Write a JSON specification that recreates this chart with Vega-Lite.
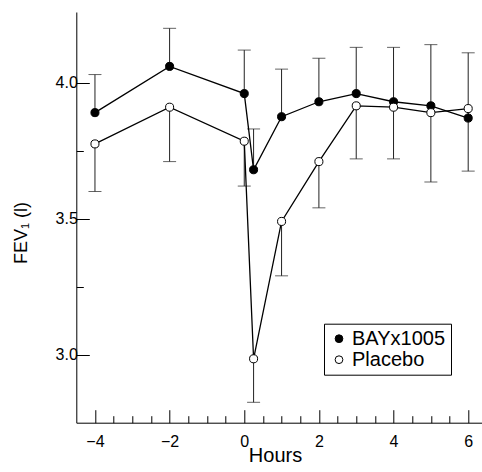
{
  "$schema": "https://vega.github.io/schema/vega-lite/v6.json",
  "width": 405.7,
  "height": 410.7,
  "autosize": {"type": "none"},
  "padding": {"left": 76.3, "top": 12, "right": 0, "bottom": 49.3},
  "background": "white",
  "config": {
    "view": {"stroke": null},
    "font": "Liberation Sans",
    "axis": {
      "grid": false,
      "domainColor": "black",
      "domainWidth": 1,
      "tickColor": "black",
      "tickWidth": 1,
      "labelColor": "black",
      "titleColor": "black",
      "labelFont": "Liberation Sans",
      "titleFont": "Liberation Sans",
      "labelFontSize": 16,
      "titleFontWeight": "normal"
    }
  },
  "data": {
    "values": [
      {"hour": -4, "group": "BAYx1005", "fev": 3.89, "err": 4.03},
      {"hour": -2, "group": "BAYx1005", "fev": 4.06, "err": 4.2},
      {"hour": 0, "group": "BAYx1005", "fev": 3.96, "err": 4.12},
      {"hour": 0.25, "group": "BAYx1005", "fev": 3.68, "err": 3.83},
      {"hour": 1, "group": "BAYx1005", "fev": 3.875, "err": 4.05},
      {"hour": 2, "group": "BAYx1005", "fev": 3.93, "err": 4.09},
      {"hour": 3, "group": "BAYx1005", "fev": 3.96, "err": 4.13},
      {"hour": 4, "group": "BAYx1005", "fev": 3.93, "err": 4.13},
      {"hour": 5, "group": "BAYx1005", "fev": 3.915, "err": 4.14},
      {"hour": 6, "group": "BAYx1005", "fev": 3.87, "err": 4.11},
      {"hour": -4, "group": "Placebo", "fev": 3.775, "err": 3.6},
      {"hour": -2, "group": "Placebo", "fev": 3.91, "err": 3.71},
      {"hour": 0, "group": "Placebo", "fev": 3.785, "err": 3.62},
      {"hour": 0.25, "group": "Placebo", "fev": 2.985, "err": 2.825},
      {"hour": 1, "group": "Placebo", "fev": 3.49, "err": 3.29},
      {"hour": 2, "group": "Placebo", "fev": 3.71, "err": 3.54},
      {"hour": 3, "group": "Placebo", "fev": 3.915, "err": 3.72},
      {"hour": 4, "group": "Placebo", "fev": 3.91, "err": 3.72},
      {"hour": 5, "group": "Placebo", "fev": 3.89, "err": 3.635},
      {"hour": 6, "group": "Placebo", "fev": 3.905, "err": 3.675}
    ]
  },
  "encoding": {
    "x": {
      "field": "hour",
      "type": "quantitative",
      "scale": {"domain": [-4.5, 6.37], "nice": false, "zero": false},
      "axis": {
        "title": "Hours",
        "titleFontSize": 20,
        "titleX": 198.7,
        "titleY": 39,
        "titleBaseline": "alphabetic",
        "titleAlign": "center",
        "values": [-4, -3.5, -3, -2.5, -2, -1.5, -1, -0.5, 0, 0.5, 1, 1.5, 2, 2.5, 3, 3.5, 4, 4.5, 5, 5.5, 6],
        "labelExpr": "datum.value % 2 === 0 ? format(datum.value, 'd') : ''",
        "labelFontSize": 16,
        "tickSize": {"condition": {"test": "datum.value % 2 === 0", "value": -13}, "value": -7},
        "labelPadding": 24,
        "labelFlush": false,
        "labelOverlap": false
      }
    }
  },
  "layer": [
    {
      "mark": {"type": "rule", "color": "#222222", "strokeWidth": 1},
      "encoding": {
        "y": {
          "field": "fev",
          "type": "quantitative",
          "scale": {"domain": [2.75, 4.26], "nice": false, "zero": false},
          "axis": {
            "title": "FEV₁ (l)",
            "titleFontSize": 18,
            "titleX": -55,
            "titleY": 220.5,
            "titleAngle": -90,
            "titleAlign": "center",
            "titleBaseline": "middle",
            "values": [3, 3.25, 3.5, 3.75, 4],
            "labelExpr": "(datum.value * 2) % 1 === 0 ? format(datum.value, '.1f') : ''",
            "labelFontSize": 16,
            "tickSize": {"condition": {"test": "(datum.value * 2) % 1 === 0", "value": -13}, "value": -7},
            "labelPadding": 12,
            "labelFlush": false,
            "labelOverlap": false
          }
        },
        "y2": {"field": "err"}
      }
    },
    {
      "mark": {"type": "tick", "orient": "horizontal", "color": "#222222", "size": 13, "thickness": 1},
      "encoding": {
        "y": {
          "field": "err",
          "type": "quantitative",
          "scale": {"domain": [2.75, 4.26], "nice": false, "zero": false},
          "axis": {
            "title": "FEV₁ (l)",
            "titleFontSize": 18,
            "titleX": -55,
            "titleY": 220.5,
            "titleAngle": -90,
            "titleAlign": "center",
            "titleBaseline": "middle",
            "values": [3, 3.25, 3.5, 3.75, 4],
            "labelExpr": "(datum.value * 2) % 1 === 0 ? format(datum.value, '.1f') : ''",
            "labelFontSize": 16,
            "tickSize": {"condition": {"test": "(datum.value * 2) % 1 === 0", "value": -13}, "value": -7},
            "labelPadding": 12,
            "labelFlush": false,
            "labelOverlap": false
          }
        }
      }
    },
    {
      "mark": {"type": "line", "color": "black", "strokeWidth": 1.3},
      "encoding": {
        "y": {
          "field": "fev",
          "type": "quantitative",
          "scale": {"domain": [2.75, 4.26], "nice": false, "zero": false},
          "axis": {
            "title": "FEV₁ (l)",
            "titleFontSize": 18,
            "titleX": -55,
            "titleY": 220.5,
            "titleAngle": -90,
            "titleAlign": "center",
            "titleBaseline": "middle",
            "values": [3, 3.25, 3.5, 3.75, 4],
            "labelExpr": "(datum.value * 2) % 1 === 0 ? format(datum.value, '.1f') : ''",
            "labelFontSize": 16,
            "tickSize": {"condition": {"test": "(datum.value * 2) % 1 === 0", "value": -13}, "value": -7},
            "labelPadding": 12,
            "labelFlush": false,
            "labelOverlap": false
          }
        },
        "detail": {"field": "group"}
      }
    },
    {
      "mark": {"type": "point", "shape": "circle", "filled": true, "stroke": "black", "strokeWidth": 1, "size": 65, "opacity": 1},
      "encoding": {
        "y": {
          "field": "fev",
          "type": "quantitative",
          "scale": {"domain": [2.75, 4.26], "nice": false, "zero": false},
          "axis": {
            "title": "FEV₁ (l)",
            "titleFontSize": 18,
            "titleX": -55,
            "titleY": 220.5,
            "titleAngle": -90,
            "titleAlign": "center",
            "titleBaseline": "middle",
            "values": [3, 3.25, 3.5, 3.75, 4],
            "labelExpr": "(datum.value * 2) % 1 === 0 ? format(datum.value, '.1f') : ''",
            "labelFontSize": 16,
            "tickSize": {"condition": {"test": "(datum.value * 2) % 1 === 0", "value": -13}, "value": -7},
            "labelPadding": 12,
            "labelFlush": false,
            "labelOverlap": false
          }
        },
        "fill": {
          "field": "group",
          "type": "nominal",
          "scale": {"domain": ["BAYx1005", "Placebo"], "range": ["black", "white"]},
          "legend": {
            "title": null,
            "orient": "none",
            "legendX": 247.7,
            "legendY": 311.7,
            "strokeColor": "black",
            "fillColor": "white",
            "padding": 5,
            "labelFontSize": 20,
            "labelFont": "Liberation Sans",
            "labelColor": "black",
            "symbolType": "circle",
            "symbolSize": 60,
            "symbolStrokeColor": "black",
            "symbolStrokeWidth": 1,
            "symbolOffset": 0,
            "rowPadding": 1,
            "labelOffset": 3
          }
        }
      }
    }
  ]
}
